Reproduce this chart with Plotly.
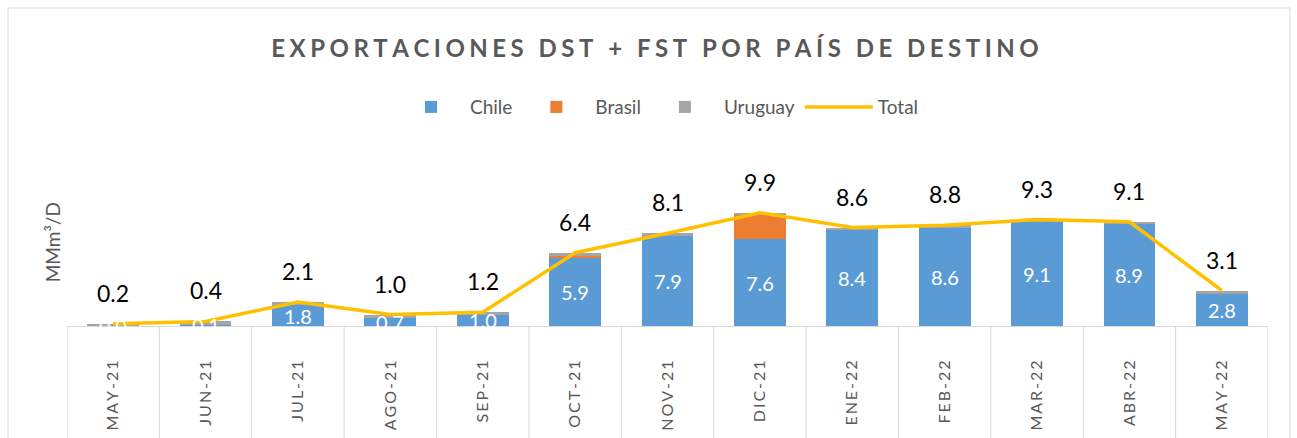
import plotly.graph_objects as go

months = ["MAY-21", "JUN-21", "JUL-21", "AGO-21", "SEP-21", "OCT-21", "NOV-21",
          "DIC-21", "ENE-22", "FEB-22", "MAR-22", "ABR-22", "MAY-22"]
chile = [0.0, 0.1, 1.8, 0.7, 1.0, 5.9, 7.9, 7.6, 8.4, 8.6, 9.1, 8.9, 2.8]
brasil = [0.0, 0.0, 0.0, 0.0, 0.0, 0.2, 0.0, 2.1, 0.0, 0.0, 0.0, 0.0, 0.0]
uruguay = [0.2, 0.3, 0.3, 0.3, 0.2, 0.3, 0.2, 0.2, 0.2, 0.2, 0.2, 0.2, 0.3]
total = [0.2, 0.4, 2.1, 1.0, 1.2, 6.4, 8.1, 9.9, 8.6, 8.8, 9.3, 9.1, 3.1]

FONT = "Lato"
GRAY = "#595959"
TS = "\u2009"


def spaced(s, sep=TS):
    return sep.join(list(s))


tick_text = [spaced(m) for m in months]

fig = go.Figure()
fig.add_bar(x=months, y=chile, name="Chile", marker=dict(color="#5B9BD5", line=dict(width=0)))
fig.add_bar(x=months, y=brasil, name="Brasil", marker=dict(color="#ED7D31", line=dict(width=0)))
fig.add_bar(x=months, y=uruguay, name="Uruguay", marker=dict(color="#A5A5A5", line=dict(width=0)))
fig.add_scatter(x=months, y=total, name="Total", mode="lines",
                line=dict(color="#FFC000", width=3.5))

annotations = []
for m, t in zip(months, total):
    annotations.append(dict(x=m, y=t, xref="x", yref="y", text=f"{t:.1f}", showarrow=False,
                            yshift=31, font=dict(family=FONT, size=23, color="#000000")))
for m, c in zip(months, chile):
    annotations.append(dict(x=m, y=c / 2, xref="x", yref="y", text=f"{c:.1f}", showarrow=False,
                            font=dict(family=FONT, size=20, color="#FFFFFF")))
annotations.append(dict(x=-0.0125, y=0.45, xref="paper", yref="paper", text="MMm³/D",
                        textangle=-90, showarrow=False, xanchor="center", yanchor="middle",
                        font=dict(family=FONT, size=19, color=GRAY)))

shapes = []
for i in range(len(months) + 1):
    shapes.append(dict(type="line", xref="x", yref="paper", x0=i - 0.5, x1=i - 0.5,
                       y0=0, y1=-0.62, line=dict(color="#D9D9D9", width=1)))
shapes.append(dict(type="rect", xref="paper", yref="paper", x0=-0.0491, x1=1.0183,
                   y0=-0.8, y1=1.7097, line=dict(color="#D9D9D9", width=1)))

fig.update_layout(
    width=1297, height=438,
    barmode="stack", bargap=0.44,
    paper_bgcolor="white", plot_bgcolor="white",
    margin=dict(l=67, r=29, t=140, b=112, autoexpand=False),
    title=dict(text="<b>" + spaced("EXPORTACIONES DST + FST POR PAÍS DE DESTINO", "\u2009\u200a") + "</b>",
               x=0.505, xref="container", xanchor="center",
               y=1 - 49 / 438, yref="container", yanchor="middle",
               font=dict(family=FONT, size=24, color=GRAY)),
    legend=dict(orientation="h", x=0.2706, xanchor="left", y=1.177, yanchor="middle",
                font=dict(family=FONT, size=19, color=GRAY), traceorder="normal",
                itemwidth=68),
    annotations=annotations,
    shapes=shapes,
    showlegend=True,
)
fig.update_xaxes(type="category", tickmode="array", tickvals=months, ticktext=tick_text,
                 tickangle=-90, ticks="", showline=True, linecolor="#D9D9D9", linewidth=1,
                 tickfont=dict(family=FONT, size=16, color=GRAY), ticklabelstandoff=27,
                 automargin=False,
                 showgrid=False, range=[-0.5, len(months) - 0.5])
fig.update_yaxes(range=[0, 16.25], showgrid=False, showticklabels=False, zeroline=False,
                 showline=False, ticks="", automargin=False)

fig.write_html("out.html")
